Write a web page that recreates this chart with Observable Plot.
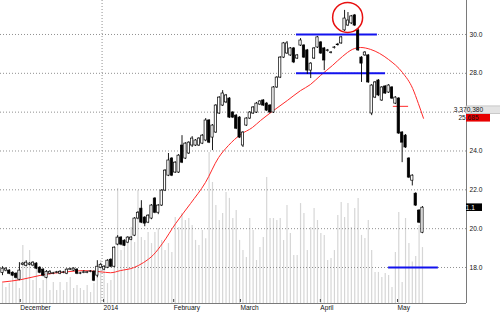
<!DOCTYPE html>
<html><head><meta charset="utf-8">
<script src="https://cdn.jsdelivr.net/npm/d3@7"></script>
<script src="https://cdn.jsdelivr.net/npm/@observablehq/plot@0.6"></script>
<style>
html,body{margin:0;padding:0;background:#fff;}
#wrap{position:relative;width:500px;height:312px;overflow:hidden;background:#fff;}
#wrap svg{position:absolute;left:0;top:0;}
</style></head><body><div id="wrap"></div>
<script>
// Daily candles (index 0 = first session shown)
const opens = [17.72,17.84,17.84,17.73,17.68,17.37,18.14,18.09,18.14,18.10,18.20,17.99,17.89,17.47,17.68,17.68,17.73,17.68,17.73,17.68,17.89,17.84,17.89,17.68,17.73,17.73,17.78,17.78,17.58,17.99,17.89,17.99,18.40,18.04,19.18,19.54,19.38,19.28,19.43,19.64,20.52,21.03,20.57,20.31,20.52,21.55,20.82,21.19,21.96,22.73,23.61,22.89,22.89,24.28,23.61,23.87,24.28,24.28,24.28,24.38,24.54,25.57,24.69,24.95,25.93,26.34,26.50,26.70,25.98,25.82,25.72,24.28,25.31,25.67,25.93,25.98,26.39,26.60,26.44,26.34,25.98,27.27,27.78,28.81,29.02,28.92,29.28,28.76,29.43,29.43,29.18,28.14,28.76,29.33,29.59,29.28,29.15,29.05,29.30,29.45,29.54,30.21,30.46,30.57,30.98,30.21,28.81,28.92,28.92,25.93,26.75,27.63,26.60,27.32,27.01,27.27,26.44,26.70,24.95,24.79,23.61,22.47,21.80,20.93,19.79];
const closes = [17.94,17.94,17.68,17.58,17.47,17.84,18.20,18.25,18.20,18.25,17.94,17.73,17.58,17.78,17.78,17.70,17.75,17.78,17.75,17.89,17.91,17.94,17.68,17.70,17.75,17.75,17.80,17.32,18.04,18.14,18.04,18.35,18.04,19.02,19.54,19.18,19.12,19.54,19.54,20.52,20.82,20.31,20.26,20.67,21.19,20.82,21.19,21.96,22.99,23.51,22.73,23.40,23.76,23.40,24.38,24.43,24.64,24.54,24.64,24.79,25.57,24.43,25.31,26.34,26.75,26.96,26.86,25.72,25.72,25.15,24.69,24.95,25.67,25.98,26.24,26.44,26.55,26.34,26.08,25.98,27.27,27.78,28.81,29.54,29.54,29.28,28.56,28.92,29.69,28.81,28.14,28.50,29.28,29.85,29.02,28.66,29.18,29.07,29.33,29.48,29.85,30.82,30.72,30.93,30.46,29.18,28.50,29.07,27.53,27.37,27.53,26.86,27.27,26.96,27.37,26.70,26.75,24.90,24.43,24.18,22.63,22.73,21.19,20.31,21.08];
const highs = [18.04,17.99,17.89,17.78,17.73,18.25,18.25,18.35,18.25,18.30,18.25,18.04,17.94,17.84,17.84,17.75,17.80,17.84,17.80,17.94,17.96,17.99,17.94,17.75,17.84,17.80,17.84,17.84,18.35,18.20,18.09,18.40,18.45,19.07,19.64,19.59,19.43,19.59,19.59,20.57,20.88,21.44,20.62,20.72,21.24,21.60,21.24,22.01,23.04,23.87,23.66,23.45,23.82,24.79,24.43,24.48,24.74,24.59,24.69,24.85,25.67,25.62,25.36,26.39,26.80,27.11,26.91,26.75,26.03,25.88,25.77,25.00,25.72,26.03,26.29,26.50,26.60,26.65,26.50,26.39,27.32,27.83,28.86,29.59,29.64,29.33,29.33,28.97,29.79,29.48,29.23,28.55,29.33,29.90,29.64,29.33,29.23,29.12,29.38,29.54,29.90,31.24,31.13,30.98,31.03,30.31,28.86,29.12,28.97,27.42,27.58,27.68,27.32,27.37,27.42,27.32,26.80,26.75,25.00,24.85,23.66,22.78,21.85,20.98,21.14];
const lows = [17.58,17.78,17.63,17.52,17.42,17.32,18.09,18.04,18.09,18.04,17.89,17.68,17.52,17.42,17.63,17.63,17.68,17.63,17.68,17.63,17.84,17.80,17.63,17.63,17.68,17.68,17.73,17.27,17.47,17.94,17.84,17.94,17.99,17.99,19.12,19.12,19.07,19.23,19.38,19.59,20.46,20.26,20.10,20.26,20.46,20.77,20.72,21.14,21.91,22.68,22.68,22.84,22.84,23.35,23.56,23.82,24.18,24.23,24.23,24.33,24.48,24.38,24.02,24.90,25.88,26.29,26.44,25.67,25.67,25.10,24.64,24.18,25.26,25.62,25.88,25.93,26.34,26.29,26.03,25.93,25.93,27.22,27.73,28.76,28.97,28.87,28.50,28.71,29.38,28.76,27.94,27.73,28.71,29.28,28.97,28.14,29.10,29.00,29.25,29.40,29.49,30.15,30.41,30.51,30.41,29.13,27.53,28.87,27.48,25.82,26.70,26.80,26.55,26.91,26.96,26.65,26.39,24.85,23.40,24.13,22.58,22.20,21.14,20.26,19.74];
// volume, millions of shares
const volumes = [1.2,0.96,1.2,1.57,1.57,0.9,3.5,2.47,3.19,1.39,2.17,0.9,1.39,1.57,0.78,1.27,0.78,1.27,0.78,1.27,1.57,0.9,1.08,0.9,0.78,1.08,0.66,1.2,1.69,2.59,2.29,1.2,1.39,2.89,6.93,3.19,3.37,3.61,4.58,3.67,6.8,3.98,3.8,4.28,3.61,4.28,4.52,3.8,3.19,3.61,3.07,5.18,4.58,5.42,5.0,5.12,4.7,3.8,3.49,4.4,3.9,9.1,7.29,5.9,5.0,5.42,6.69,6.33,5.12,5.6,3.8,3.19,2.77,5.12,4.4,2.59,3.37,3.98,7.59,5.12,5.12,5.0,5.12,3.8,5.9,4.22,2.89,2.89,6.02,5.42,3.19,4.58,5.72,5.0,4.22,4.1,2.59,2.71,3.19,5.3,6.08,5.18,6.02,4.58,5.72,6.33,4.1,3.92,5.0,3.19,1.87,1.87,1.57,1.81,1.69,0.96,3.07,5.48,1.27,5.12,3.61,2.5,2.83,4.7,3.37];
// moving average (read at session positions)
const maPos = [0,5.3,12.1,19.2,23.9,28.9,31.9,34.8,38.7,41.6,44.6,47.2,51.1,55.5,59.9,63.8,66.7,70.3,73.8,76.2,80.0,84.1,88.0,90.9,93.9,97.4,100.4,103.3,105.7,108.7,114.0,118.1,121.1,122.8,124.3];
const maVal = [17.25,17.37,17.63,17.78,17.84,17.78,17.73,17.84,17.99,18.25,18.66,19.23,20.26,21.29,22.37,23.66,24.28,24.85,25.21,25.57,26.08,26.6,27.11,27.42,27.89,28.4,28.87,29.23,29.33,29.23,28.71,28.04,27.22,26.44,25.685];
// month ticks (session positions) and labels
const monthPos = [4.8,29.4,50.1,69.8,93.4,116.2];
const monthLabels = ["December","2014","February","March","April","May"];
const priceTicks = [18,20,22,24,26,28,30];
// annotations
const blueLevels = [{from:86.8,to:110.7,level:30.0},{from:86.8,to:113.1,level:28.0},{from:114.0,to:128.7,level:18.0}];
const redLevels = [{from:115.4,to:119.9,level:26.3}];
const circleMark = [{pos:101.9,level:30.88}];
const lastVolumeText = "3,370,380", lastVolumeLevel = 26.1;
const lastMaText = "25.685", lastMaLevel = 25.685;
const lastCloseText = "21.1", lastCloseLevel = 21.08;

const xDomain = [-0.59, 137];
const priceDomain = [16.146, 31.75];
const volDomain = [0, 18.25];
const idx = d3.range(opens.length);
const base = {width:500, height:312, marginLeft:0, marginRight:34, marginTop:0, marginBottom:9,
  style:{background:"transparent", fontFamily:"'Liberation Sans', Arial, sans-serif", fontSize:"6.6px", color:"#111"}};

const volPlot = Plot.plot({...base,
  x:{domain:xDomain, axis:null}, y:{domain:volDomain, axis:null},
  marks:[Plot.ruleX(idx, {x:i=>i, y1:0, y2:i=>volumes[i], stroke:"#d6d6d6", strokeWidth:1.2})]
});

const labelMap = new Map(monthPos.map((p,k)=>[p, monthLabels[k]]));
const pricePlot = Plot.plot({...base,
  x:{domain:xDomain, axis:null}, y:{domain:priceDomain, axis:null},
  marks:[
    Plot.ruleY(priceTicks, {stroke:"#909090", strokeDasharray:"1,2"}),
    Plot.ruleX([monthPos[1]], {stroke:"#909090", strokeDasharray:"1,2"}),
    Plot.ruleY([priceDomain[0]], {stroke:"#7a7a7a"}),
    Plot.ruleX([xDomain[1]], {stroke:"#7a7a7a"}),
    Plot.line(maPos.map((p,k)=>({p, v:maVal[k]})), {x:"p", y:"v", stroke:"#ff2a2a", strokeWidth:1, curve:"monotone-x"}),
    Plot.ruleY(redLevels, {y:"level", x1:"from", x2:"to", stroke:"#ff2a2a", strokeWidth:1}),
    Plot.ruleY(blueLevels, {y:"level", x1:"from", x2:"to", stroke:"#1212ee", strokeWidth:2}),
    Plot.ruleX(idx, {x:i=>i, y1:i=>lows[i], y2:i=>highs[i], stroke:"#000", strokeWidth:0.9}),
    Plot.rect(idx, {x1:i=>i-0.34, x2:i=>i+0.34, y1:i=>opens[i], y2:i=>closes[i],
      fill:i=>closes[i]>=opens[i]?"#fff":"#000", stroke:"#000", strokeWidth:0.7}),
    Plot.dot(circleMark, {x:"pos", y:"level", r:15, stroke:"#e81010", strokeWidth:1.5, fill:"none"}),
    Plot.axisY(priceTicks.filter(t=>t!==26), {anchor:"right", tickSize:0, tickPadding:3, tickFormat:d=>d.toFixed(1), fill:"#111"}),
    Plot.axisX(monthPos, {anchor:"bottom", tickSize:3, tickPadding:3, tickFormat:d=>labelMap.get(d), textAnchor:"start", dx:1.5, dy:-4, fill:"#111", stroke:"#444"})
  ]
});

const wrap = document.getElementById("wrap");
wrap.appendChild(volPlot);
wrap.appendChild(pricePlot);

// value boxes on the right axis
const ys = pricePlot.scale("y");
const svg = d3.select(pricePlot);
function box(level, text, fill, color, w, border) {
  const y = ys.apply(level);
  svg.append("rect").attr("x", 466).attr("y", y-3.8).attr("width", w).attr("height", 7.6)
    .attr("fill", fill).attr("stroke", border || "none").attr("stroke-width", 0.6);
  svg.append("text").attr("x", 468.5).attr("y", y+2.4).attr("fill", color)
    .style("font-family", "'Liberation Sans', Arial, sans-serif").style("font-size", "6.6px").text(text);
}
box(lastVolumeLevel, lastVolumeText, "#e4e4e4", "#111", 36, "#b0b0b0");
box(lastMaLevel, lastMaText, "#e80000", "#111", 24);
box(lastCloseLevel, lastCloseText, "#000", "#fff", 16);
</script></body></html>
